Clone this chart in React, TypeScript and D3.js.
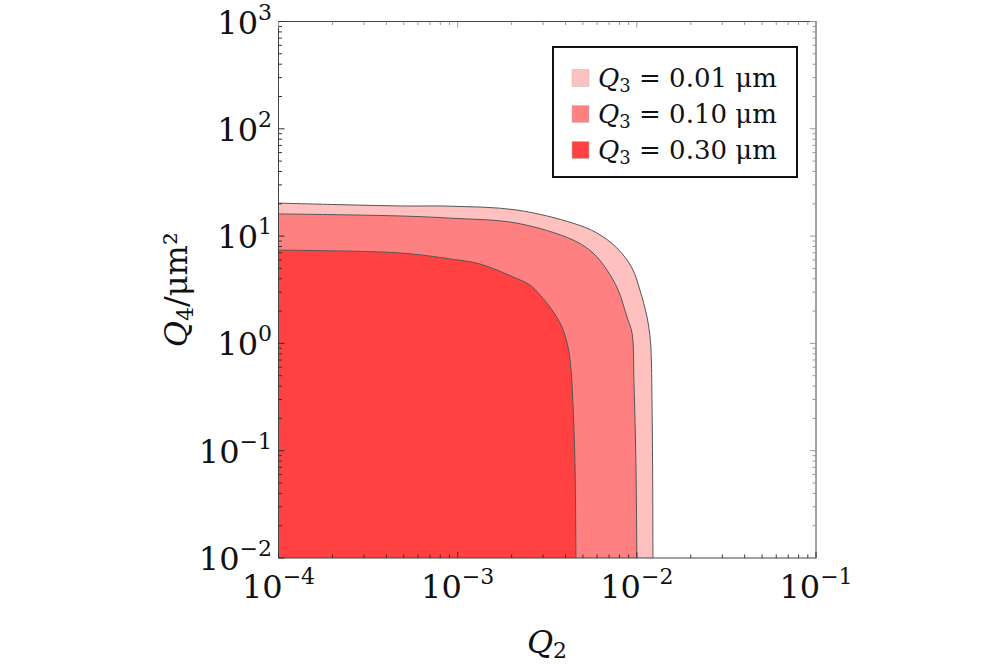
import React from "react";
import * as d3 from "d3";

// contour boundaries (Q2, Q4/um^2)
const q2Light = [1e-4, 4.8e-4, 9.1e-4, 2.14e-3, 4.4e-3, 5.98e-3, 7.74e-3, 9.4e-3, 1.04e-2, 1.14e-2, 1.19e-2, 1.205e-2, 1.215e-2, 1.225e-2, 1.23e-2];
const q4Light = [20.3, 19.1, 19.0, 17.5, 13.2, 10.7, 7.75, 5.04, 3.15, 1.76, 1.07, 0.7, 0.296, 0.07, 0.01];

const q2Mid = [1e-4, 4.8e-4, 9.1e-4, 2.14e-3, 4.4e-3, 5.69e-3, 6.81e-3, 7.86e-3, 8.81e-3, 9.4e-3, 9.64e-3, 9.89e-3, 1.0e-2];
const q4Mid = [16.1, 15.4, 14.7, 13.2, 9.2, 6.96, 4.83, 3.15, 1.76, 1.25, 0.428, 0.0705, 0.01];

const q2Dark = [1e-4, 4.8e-4, 9.1e-4, 1.33e-3, 2.04e-3, 2.53e-3, 2.88e-3, 3.36e-3, 3.82e-3, 4.13e-3, 4.28e-3, 4.39e-3, 4.52e-3, 4.57e-3];
const q4Dark = [7.4, 6.96, 6.12, 5.5, 4.16, 3.5, 2.83, 2.05, 1.42, 0.924, 0.6, 0.296, 0.0705, 0.01];

const seriesLabels = ["0.01", "0.10", "0.30"];
const seriesColors = ["#ffc0c0", "#ff8080", "#ff4141"];

const xTickExp = [-4, -3, -2, -1];
const yTickExp = [-2, -1, 0, 1, 2, 3];

const W = 997;
const H = 664;
const font = "'DejaVu Serif', serif";

export default function App() {
  const x = d3.scaleLog().domain([1e-4, 1e-1]).range([278.5, 816]);
  const y = d3.scaleLog().domain([1e-2, 1e3]).range([558, 21.5]);

  const curve = d3
    .line<[number, number]>()
    .x((d) => x(d[0]))
    .y((d) => y(d[1]))
    .curve(d3.curveCatmullRom.alpha(0.5));

  const regions = [
    { q2: q2Light, q4: q4Light },
    { q2: q2Mid, q4: q4Mid },
    { q2: q2Dark, q4: q4Dark },
  ].map((s, i) => {
    const pts = s.q2.map((v, j) => [v, s.q4[j]] as [number, number]);
    const edge = curve(pts) || "";
    const fill = edge + `L${x(1e-4)},${y(1e-2)}Z`;
    return { edge, fill, color: seriesColors[i], label: seriesLabels[i] };
  });

  const minorX: number[] = [];
  for (let e = -4; e < -1; e++) for (let k = 2; k <= 9; k++) minorX.push(k * Math.pow(10, e));
  const minorY: number[] = [];
  for (let e = -2; e < 3; e++) for (let k = 2; k <= 9; k++) minorY.push(k * Math.pow(10, e));

  const [x0, x1] = x.range();
  const [y0, y1] = y.range();
  const dark = "#333";
  const light = "#999";

  return (
    <svg width={W} height={H} style={{ position: "absolute", left: 0, top: 0, background: "#fff" }}>
      {regions.map((r, i) => (
        <path key={"f" + i} d={r.fill} fill={r.color} stroke="none" />
      ))}
      {regions.map((r, i) => (
        <path key={"e" + i} d={r.edge} fill="none" stroke="#555" strokeWidth={1} />
      ))}

      {/* frame */}
      <rect x={x0} y={y1} width={x1 - x0} height={y0 - y1} fill="none" stroke="#444" strokeWidth={1} />

      {/* x ticks */}
      {xTickExp.map((e) => (
        <g key={"xt" + e}>
          <line x1={x(10 ** e)} x2={x(10 ** e)} y1={y0} y2={y0 - 6} stroke={dark} />
          <line x1={x(10 ** e)} x2={x(10 ** e)} y1={y1} y2={y1 + 6} stroke={light} />
        </g>
      ))}
      {minorX.map((v, i) => (
        <g key={"xm" + i}>
          <line x1={x(v)} x2={x(v)} y1={y0} y2={y0 - 3.5} stroke={dark} />
          <line x1={x(v)} x2={x(v)} y1={y1} y2={y1 + 3.5} stroke={light} />
        </g>
      ))}
      {/* y ticks */}
      {yTickExp.map((e) => (
        <g key={"yt" + e}>
          <line x1={x0} x2={x0 + 6} y1={y(10 ** e)} y2={y(10 ** e)} stroke={dark} />
          <line x1={x1} x2={x1 - 6} y1={y(10 ** e)} y2={y(10 ** e)} stroke={light} />
        </g>
      ))}
      {minorY.map((v, i) => (
        <g key={"ym" + i}>
          <line x1={x0} x2={x0 + 3.5} y1={y(v)} y2={y(v)} stroke={dark} />
          <line x1={x1} x2={x1 - 3.5} y1={y(v)} y2={y(v)} stroke={light} />
        </g>
      ))}

      {/* tick labels */}
      {xTickExp.map((e) => (
        <text key={"xl" + e} x={x(10 ** e)} y={598} textAnchor="middle" fontFamily={font} fontSize={32} fill="#111">
          10
          <tspan fontSize={22} dy={-14}>
            {"\u2212" + Math.abs(e)}
          </tspan>
        </text>
      ))}
      {yTickExp.map((e) => (
        <text key={"yl" + e} x={272} y={y(10 ** e) + 12} textAnchor="end" fontFamily={font} fontSize={32} fill="#111">
          10
          <tspan fontSize={22} dy={-14}>
            {e < 0 ? "\u2212" + Math.abs(e) : String(e)}
          </tspan>
        </text>
      ))}

      {/* axis titles */}
      <text x={547} y={653} textAnchor="middle" fontFamily={font} fontSize={32} fill="#111">
        <tspan fontStyle="italic">Q</tspan>
        <tspan fontSize={22} dy={5}>2</tspan>
      </text>
      <text
        transform={`translate(187,${(y0 + y1) / 2}) rotate(-90)`}
        textAnchor="middle"
        fontFamily={font}
        fontSize={32}
        fill="#111"
      >
        <tspan fontStyle="italic">Q</tspan>
        <tspan fontSize={22} dy={6}>4</tspan>
        <tspan dy={-6}>/μm²</tspan>
      </text>

      {/* legend */}
      <rect x={553} y={47} width={244} height={130} fill="#fff" stroke="#111" strokeWidth={2} />
      {regions.map((r, i) => (
        <g key={"lg" + i} transform={`translate(0,${78 + i * 36})`}>
          <rect x={572} y={-8.5} width={17} height={17} fill={r.color} stroke="#bbb" strokeWidth={0.5} />
          <text x={598} y={9} fontFamily={font} fontSize={26} fill="#111">
            <tspan fontStyle="italic">Q</tspan>
            <tspan fontSize={18} dy={5}>3</tspan>
            <tspan dy={-5}>{` = ${r.label} μm`}</tspan>
          </text>
        </g>
      ))}
    </svg>
  );
}
